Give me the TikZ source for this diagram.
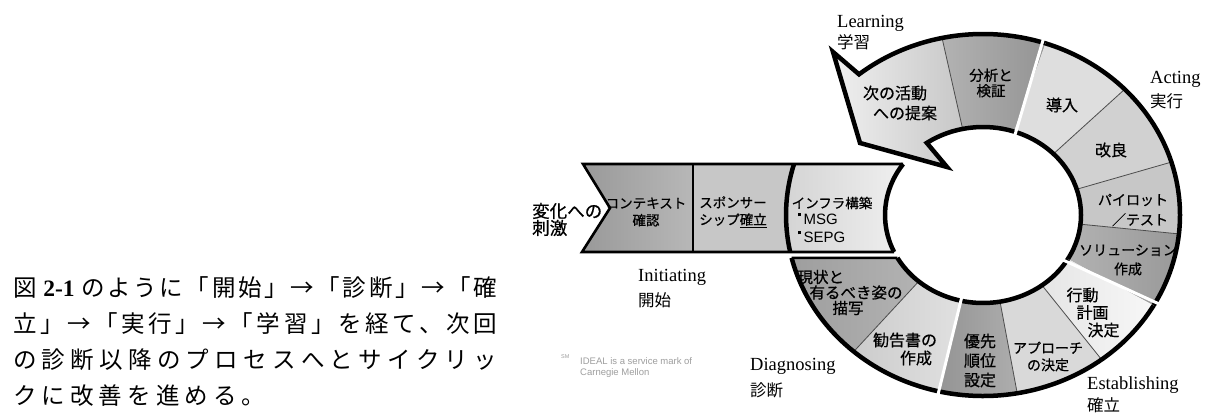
\documentclass[tikz,border=0pt]{standalone}
\usepackage{fontspec}
\setmainfont{Liberation Serif}
\newfontfamily\jp{Noto Sans CJK JP}
\newfontfamily\jpm{Noto Sans CJK JP}[FakeBold=0.6]
\newfontfamily\arial{Liberation Sans}
\usetikzlibrary{calc,positioning}

% ring: outer ellipse 197 and 181, inner ellipse 98 and 88
\newcommand\ringcell[3]{%
  \path[#3] ($(C)+(#1:197 and 181)$) arc (#1:#2:197 and 181)
  -- ($(C)+(#2:98 and 88)$) arc (#2:#1:98 and 88) -- cycle;}
\newcommand\ringsep[1]{%
  \draw[sep] ($(C)+(#1:197 and 181)$) -- ($(C)+(#1:98 and 88)$);}
\newcommand\ringrim[2]{%
  \draw[rim] ($(C)+(#1:197 and 181)$) arc (#1:#2:197 and 181);
  \draw[rim] ($(C)+(#1:98 and 88)$) arc (#1:#2:98 and 88);}
\newcommand\ringgap[2]{% outer angle, inner angle
  \draw[gap] ($(C)+(#1:204 and 188)$) -- ($(C)+(#2:91 and 81)$);}

\makeatletter
\newcommand\spreadline[2]{\hbox to #1{\let\sepfill\relax
  \@tfor\ch:=#2\do{\sepfill\ch\let\sepfill\hfill}}}
\makeatother

\begin{document}
\begin{tikzpicture}[x=1pt, y=1pt,
  sep/.style={draw=black!70, line width=0.8pt},
  rim/.style={line width=4.5pt},
  edge/.style={line width=2.6pt},
  gap/.style={draw=white, line width=3pt},
  cell/.style={font=\jpm\fontsize{16}{18}\selectfont, align=center, inner sep=0pt},
  cellsm/.style={cell, font=\jpm\fontsize{13.5}{17}\selectfont},
  phase/.style={font=\fontsize{18.5}{20}\selectfont, anchor=base west, inner sep=0pt},
  phaseja/.style={font=\jp\fontsize{16.5}{20}\selectfont, anchor=base west, inner sep=0pt},
  para/.style={font=\jp\fontsize{23.5}{36}\selectfont, anchor=base west, inner sep=0pt},
  note/.style={font=\arial\fontsize{9.5}{11}\selectfont, text=black!38, inner sep=0pt}]
\path[use as bounding box, fill=white] (0,0) rectangle (1206,414);
\coordinate (C) at (983,199);

% Learning arrow
\coordinate (barbA) at (833,362);
\coordinate (tip) at (860,271);
\coordinate (barbB) at (947,247);
\path[left color=black!6, right color=black!32]
  ($(C)+(71.5:197 and 181)$) arc (71.5:129:197 and 181)
  -- (barbA) -- (tip) -- (barbB)
  -- ($(C)+(125:98 and 88)$) arc (125:71.5:98 and 88) -- cycle;
\ringcell{71.5}{102}{left color=black!30, right color=black!42}
\ringsep{102}
\draw[rim] ($(C)+(71.5:197 and 181)$) arc (71.5:129:197 and 181)
  -- (barbA) -- (tip) -- (barbB)
  -- ($(C)+(125:98 and 88)$) arc (125:71.5:98 and 88);

% Acting
\ringcell{44}{71.5}{fill=black!13}
\ringcell{17}{44}{fill=black!18}
\ringcell{-6}{17}{fill=black!22}
\ringcell{-30}{-6}{left color=black!30, right color=black!40}
\foreach \a in {-6,17,44} {\ringsep{\a}}
\ringrim{-30}{71.5}

% Establishing
\ringcell{-53}{-30}{left color=black!10, right color=black!3}
\ringcell{-80}{-53}{fill=black!15}
\ringcell{-103}{-80}{left color=black!42, right color=black!32}
\foreach \a in {-80,-53} {\ringsep{\a}}
\ringrim{-103}{-30}

% Diagnosing
\ringcell{-131}{-103}{left color=black!20, right color=black!12}
\path[left color=black!38, right color=black!30]
  ($(C)+(-166.3:197 and 181)$) coordinate (dO) arc (-166.3:-131:197 and 181)
  -- ($(C)+(-131:98 and 88)$) arc (-131:-150.8:98 and 88) coordinate (dI) -- cycle;
\ringsep{-131}
\draw[rim] (dO) arc (-166.3:-103:197 and 181);
\draw[rim] (dI) arc (-150.8:-103:98 and 88);
\draw[edge] (dO) -- (dI);

% phase gaps
\ringgap{72.5}{70.2}
\ringgap{-28.7}{-32.5}
\ringgap{-103}{-103}

% Initiating band
\coordinate (tl) at (583,250);
\coordinate (nt) at (610,206);
\coordinate (bl) at (582,162);
\coordinate (d1t) at (693,250);
\coordinate (d1b) at (693,162);
\coordinate (oT) at ($(C)+(163.6:197 and 181)$);
\coordinate (oB) at ($(C)+(191.8:197 and 181)$);
\coordinate (iT) at ($(C)+(144.6:98 and 88)$);
\coordinate (iB) at ($(C)+(204.9:98 and 88)$);
\path[left color=black!40, right color=black!28] (tl) -- (nt) -- (bl) -- (d1b) -- (d1t) -- cycle;
\fill[black!22] (d1t) -- (d1b) -- (oB) arc (191.8:163.6:197 and 181) -- cycle;
\path[left color=black!17, right color=black!6]
  (oT) arc (163.6:191.8:197 and 181) -- (iB) arc (204.9:144.6:98 and 88) -- cycle;
\draw[edge] (iT) -- (tl) -- (nt) -- (bl) -- (iB);
\draw[line width=1.5pt] (d1t) -- (d1b);
\draw[rim] (oT) arc (163.6:191.8:197 and 181);
\draw[rim] (iT) arc (144.6:204.9:98 and 88);

% cell texts
\node[cell, align=left, font=\jpm\fontsize{16}{20}\selectfont] (next) at (900,311) {次の活動\\\hspace{10pt}への提案};
\node[cell, font=\jpm\fontsize{14.5}{15.5}\selectfont] (anal) at (991,331) {分析と\\検証};
\node[cell] (intro) at (1062,309) {導入};
\node[cell] (refine) at (1111,264) {改良};
\node[cell, align=right, font=\jpm\fontsize{14}{20}\selectfont] (pilot) at (1133,204) {パイロット\\／テスト};
\node[cell, font=\jpm\fontsize{14}{19}\selectfont] (sol) at (1128,154) {ソリューション\\作成};
\node[cell, align=left, font=\jpm\fontsize{16}{17.5}\selectfont] (plan) at (1093,101.5) {行動\\\hspace{10pt}計画\\\hspace{21pt}決定};
\node[cell, font=\jpm\fontsize{14}{17}\selectfont] (appr) at (1048,57.5) {アプローチ\\の決定};
\node[cell, font=\jpm\fontsize{16}{19.5}\selectfont] (prio) at (980,53.5) {優先\\順位\\設定};
\node[cell, align=left, font=\jpm\fontsize{16}{18}\selectfont] (recom) at (905,65) {勧告書の\\\hspace{27pt}作成};
\node[cell, align=left, font=\jpm\fontsize{15.5}{15.5}\selectfont] (state) at (850,121.5) {現状と\\\hspace{12pt}有るべき姿の\\\hspace{35pt}描写};

\node[cell, anchor=west, align=left, font=\jpm\fontsize{17.5}{17}\selectfont] (stim) at (532,194.5) {変化への\\刺激};
\node[cellsm] (ctx) at (646,202) {コンテキスト\\確認};
\node[cellsm] (spons) at (733,202) {スポンサー\\シップ\underline{確立}};
\node[cellsm] (infra) at (832,211) {インフラ構築};
\node[anchor=west, inner sep=0pt, font=\arial\fontsize{15}{17}\selectfont] (msg) at (798,195) {\rule[0.55em]{0.2em}{0.2em}\,MSG};
\node[anchor=west, inner sep=0pt, font=\arial\fontsize{15}{17}\selectfont] (sepg) at (798,177) {\rule[0.55em]{0.2em}{0.2em}\,SEPG};

% phase labels
\node[phase] (learn) at (837,386) {Learning};
\node[phaseja] (learnja) at ([yshift=-21pt]learn.base west) {学習};
\node[phase] (act) at (1150,330) {Acting};
\node[phaseja] (actja) at ([yshift=-24pt]act.base west) {実行};
\node[phase] (estab) at (1087,24) {Establishing};
\node[phaseja] (estabja) at ([yshift=-22pt]estab.base west) {確立};
\node[phase] (diag) at (750,43) {Diagnosing};
\node[phaseja] (diagja) at ([yshift=-26pt]diag.base west) {診断};
\node[phase] (init) at (638,132) {Initiating};
\node[phaseja] (initja) at ([yshift=-25pt]init.base west) {開始};

\node[note, anchor=base west, font=\arial\fontsize{5.5}{6}\selectfont] (sm) at (561,55) {SM};
\node[note, anchor=north west, align=left] (ideal) at (580,57) {IDEAL is a service mark of\\Carnegie Mellon};

% paragraph
\node[para] (p1) at (13,117) {\spreadline{484pt}{図{\,{\rmfamily\bfseries 2-1}\,}のように「開始」→「診断」→「確}};
\node[para] (p2) at ([yshift=-36pt]p1.base west) {\spreadline{484pt}{立」→「実行」→「学習」を経て、次回}};
\node[para] (p3) at ([yshift=-36pt]p2.base west) {\spreadline{484pt}{の診断以降のプロセスへとサイクリッ}};
\node[para] (p4) at ([yshift=-36pt]p3.base west) {\spreadline{252pt}{クに改善を進める。}};
\end{tikzpicture}
\end{document}
